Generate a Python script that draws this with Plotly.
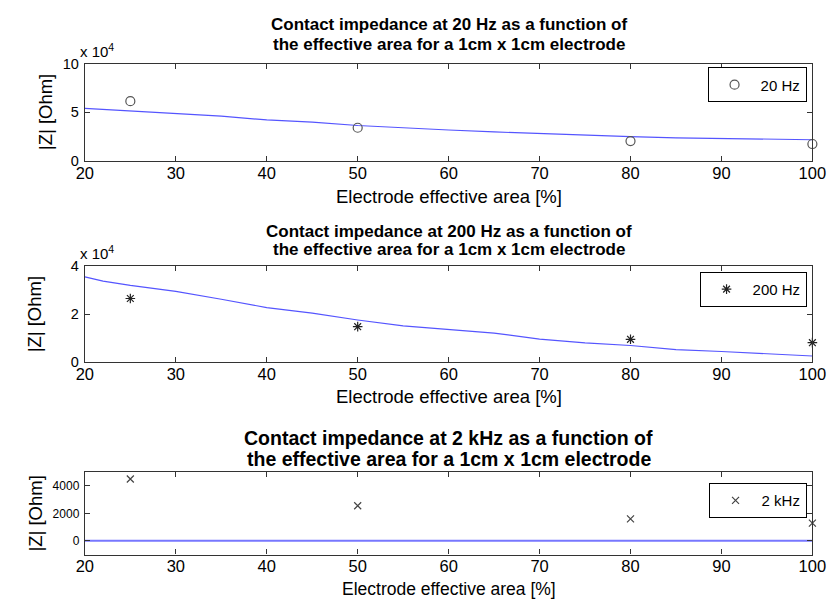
import plotly.graph_objects as go

# ---------------- data ----------------
area_pts = [25, 50, 80, 100]
z20_pts = [61300, 34000, 20300, 17300]
z200_pts = [26500, 14700, 9400, 8000]
z2k_pts = [4500, 2550, 1600, 1290]

area_line = [20, 25, 30, 35, 40, 45, 50, 55, 60, 65, 70, 75, 80, 85, 90, 95, 100]
z20_line = [54000, 51500, 49000, 46000, 42000, 39700, 36300, 33700, 31700, 29700,
            28000, 26700, 25000, 23700, 23000, 21700, 21700]
area_line2 = [20, 22, 25, 30, 35, 40, 45, 50, 55, 60, 65, 70, 75, 80, 85, 90, 95, 100]
z200_line = [35600, 33800, 32000, 29500, 26200, 22700, 20400, 17500, 15000, 13600,
             12000, 9500, 7900, 6800, 5100, 4300, 3300, 2400]
area_line3 = [20, 100]
z2k_line = [0, 0]

titles = [
    ("Contact impedance at 20 Hz as a function of", "the effective area for a 1cm x 1cm electrode"),
    ("Contact impedance at 200 Hz as a function of", "the effective area for a 1cm x 1cm electrode"),
    ("Contact impedance at 2 kHz as a function of", "the effective area for a 1cm x 1cm electrode"),
]
legend_names = ["20 Hz", "200 Hz", "2 kHz"]
x_ticks = [20, 30, 40, 50, 60, 70, 80, 90, 100]

W, H = 840, 608
FONT = "Liberation Sans, Arial, Helvetica, sans-serif"

def px(x):
    return x / W

def py(y):
    return 1 - y / H

# panel geometry (pixels)
left, right = 78, 826
panels = [(57, 157), (265.3, 363.3), (476.7, 561.3)]

fig = go.Figure()

LINE_BLUE = "#5555ff"

fig.add_trace(go.Scatter(x=area_line, y=z20_line, mode="lines",
                         line=dict(color=LINE_BLUE, width=1.2), showlegend=False,
                         xaxis="x", yaxis="y"))
fig.add_trace(go.Scatter(x=area_pts, y=z20_pts, mode="markers", name=legend_names[0],
                         marker=dict(symbol="circle-open", size=9, color="#555555",
                                     line=dict(width=1.2)),
                         cliponaxis=False, legend="legend", xaxis="x", yaxis="y"))

fig.add_trace(go.Scatter(x=area_line2, y=z200_line, mode="lines",
                         line=dict(color=LINE_BLUE, width=1.2), showlegend=False,
                         xaxis="x2", yaxis="y2"))
fig.add_trace(go.Scatter(x=area_pts, y=z200_pts, mode="markers", name=legend_names[1],
                         marker=dict(symbol="asterisk-open", size=8, color="#222222",
                                     line=dict(width=1.2)),
                         cliponaxis=False, legend="legend2", xaxis="x2", yaxis="y2"))

fig.add_trace(go.Scatter(x=area_line3, y=z2k_line, mode="lines",
                         line=dict(color="#7777ff", width=2), showlegend=False,
                         xaxis="x3", yaxis="y3"))
fig.add_trace(go.Scatter(x=area_pts, y=z2k_pts, mode="markers", name=legend_names[2],
                         marker=dict(symbol="x-thin-open", size=7, color="#444444",
                                     line=dict(width=1.2)),
                         cliponaxis=False, legend="legend3", xaxis="x3", yaxis="y3"))

axis_common = dict(showline=True, linecolor="#333333", linewidth=1.3, mirror="ticks",
                   ticks="inside", ticklen=5, tickcolor="#333333", tickwidth=1,
                   showgrid=False, zeroline=False)

yspecs = [
    dict(range=[0, 100000], tickvals=[0, 50000, 100000], ticktext=["0", "5", "10"], size=14.5),
    dict(range=[0, 40000], tickvals=[0, 20000, 40000], ticktext=["0", "2", "4"], size=14.5),
    dict(range=[-1000, 5000], tickvals=[0, 2000, 4000], ticktext=["0", "2000", "4000"], size=12),
]

layout = dict(width=W, height=H, margin=dict(l=0, r=0, t=0, b=0),
              paper_bgcolor="white", plot_bgcolor="white",
              font=dict(family=FONT, color="black"))

annotations = []
for i, (top, bot) in enumerate(panels):
    sfx = "" if i == 0 else str(i + 1)
    layout["xaxis" + sfx] = dict(axis_common, domain=[px(left), px(right)], range=[20, 100],
                                 tickvals=x_ticks, anchor="y" + sfx, ticklabelstandoff=-3,
                                 tickfont=dict(size=16.5, family=FONT, color="black"))
    ys = yspecs[i]
    layout["yaxis" + sfx] = dict(axis_common, domain=[py(bot), py(top)], range=ys["range"],
                                 tickvals=ys["tickvals"], ticktext=ys["ticktext"],
                                 anchor="x" + sfx, ticklabelstandoff=2,
                                 tickfont=dict(size=ys["size"], family=FONT, color="black"))

xlabel_y = [194, 399, 597]
xlabel_size = [18.5, 18.5, 17.5]
ylabel_x = [37, 26, 27]
title_y = [(17, 37), (229.5, 248.5), (441.5, 463)]
title_size = [17, 17, 19.5]
cx = (left + right) / 2

for i, (top, bot) in enumerate(panels):
    t1, t2 = titles[i]
    for ty, txt in zip(title_y[i], (t1, t2)):
        annotations.append(dict(x=px(cx), y=py(ty), xref="paper", yref="paper",
                                text="<b>" + txt + "</b>", showarrow=False,
                                xanchor="center", yanchor="middle",
                                font=dict(size=title_size[i], family=FONT, color="black")))
    annotations.append(dict(x=px(cx), y=py(xlabel_y[i]), xref="paper", yref="paper",
                            text="Electrode effective area [%]", showarrow=False,
                            xanchor="center", yanchor="middle",
                            font=dict(size=xlabel_size[i], family=FONT, color="black")))
    annotations.append(dict(x=px(ylabel_x[i]), y=py((top + bot) / 2), xref="paper", yref="paper",
                            text="|Z| [Ohm]", showarrow=False, textangle=-90,
                            xanchor="center", yanchor="middle",
                            font=dict(size=18.5, family=FONT, color="black")))
    if i < 2:
        annotations.append(dict(x=px(left - 7), y=py(top - 2), xref="paper", yref="paper",
                                text="x 10<sup>4</sup>", showarrow=False,
                                xanchor="left", yanchor="bottom",
                                font=dict(size=15, family=FONT, color="black")))

layout["annotations"] = annotations

leg_tops = [61, 271, 488]
leg_common = dict(xref="paper", yref="paper", xanchor="right", yanchor="top",
                  bgcolor="white", bordercolor="black", borderwidth=1,
                  itemwidth=42, font=dict(size=15, family=FONT, color="black"))
for i, t in enumerate(leg_tops):
    key = "legend" if i == 0 else "legend" + str(i + 1)
    layout[key] = dict(leg_common, x=px(820), y=py(t))

fig.update_layout(**layout)
fig.write_html("out.html")
